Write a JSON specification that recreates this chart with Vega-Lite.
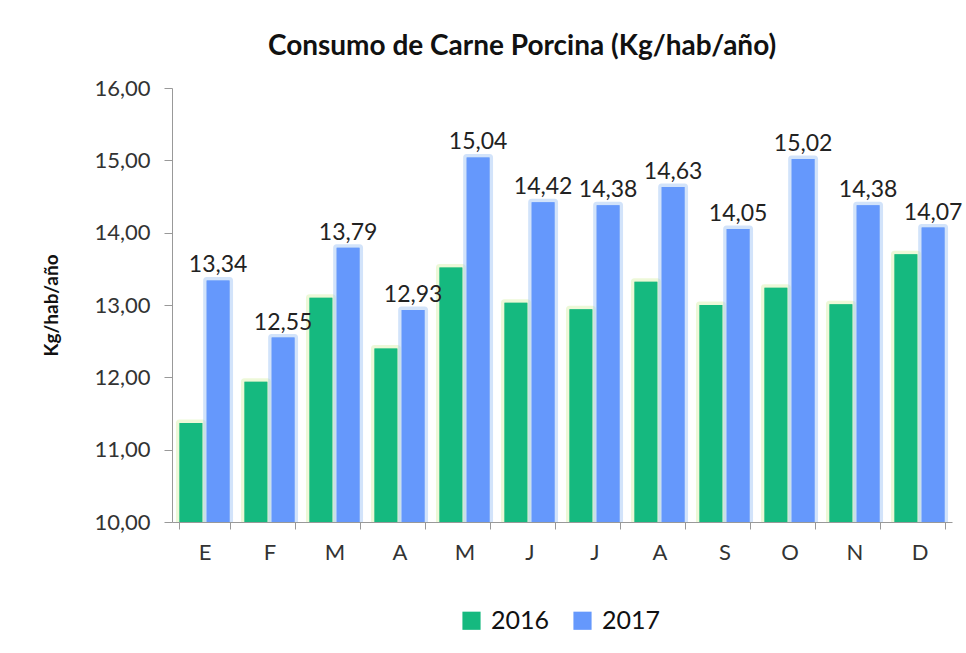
{
  "$schema": "https://vega.github.io/schema/vega-lite/v6.json",
  "autosize": {"type": "none"},
  "width": 780,
  "height": 434,
  "padding": {"left": 172, "top": 88, "right": 14, "bottom": 131},
  "background": "white",
  "config": {
    "font": "Lato",
    "view": {"stroke": null},
    "locale": {"number": {"decimal": ",", "thousands": ".", "grouping": [3], "currency": ["", ""]}}
  },
  "title": {
    "text": "Consumo de Carne Porcina (Kg/hab/año)",
    "fontSize": 28,
    "fontWeight": "bold",
    "font": "Lato",
    "color": "#111111",
    "anchor": "middle",
    "dx": -40,
    "offset": 16
  },
  "data": {
    "values": [
      {"idx": 1, "mes": "E", "anio": "2016", "valor": 11.37},
      {"idx": 1, "mes": "E", "anio": "2017", "valor": 13.34},
      {"idx": 2, "mes": "F", "anio": "2016", "valor": 11.94},
      {"idx": 2, "mes": "F", "anio": "2017", "valor": 12.55},
      {"idx": 3, "mes": "M", "anio": "2016", "valor": 13.10},
      {"idx": 3, "mes": "M", "anio": "2017", "valor": 13.79},
      {"idx": 4, "mes": "A", "anio": "2016", "valor": 12.40},
      {"idx": 4, "mes": "A", "anio": "2017", "valor": 12.93},
      {"idx": 5, "mes": "M", "anio": "2016", "valor": 13.52},
      {"idx": 5, "mes": "M", "anio": "2017", "valor": 15.04},
      {"idx": 6, "mes": "J", "anio": "2016", "valor": 13.03},
      {"idx": 6, "mes": "J", "anio": "2017", "valor": 14.42},
      {"idx": 7, "mes": "J", "anio": "2016", "valor": 12.94},
      {"idx": 7, "mes": "J", "anio": "2017", "valor": 14.38},
      {"idx": 8, "mes": "A", "anio": "2016", "valor": 13.32},
      {"idx": 8, "mes": "A", "anio": "2017", "valor": 14.63},
      {"idx": 9, "mes": "S", "anio": "2016", "valor": 13.00},
      {"idx": 9, "mes": "S", "anio": "2017", "valor": 14.05},
      {"idx": 10, "mes": "O", "anio": "2016", "valor": 13.24},
      {"idx": 10, "mes": "O", "anio": "2017", "valor": 15.02},
      {"idx": 11, "mes": "N", "anio": "2016", "valor": 13.01},
      {"idx": 11, "mes": "N", "anio": "2017", "valor": 14.38},
      {"idx": 12, "mes": "D", "anio": "2016", "valor": 13.70},
      {"idx": 12, "mes": "D", "anio": "2017", "valor": 14.07}
    ]
  },
  "encoding": {
    "x": {
      "field": "idx",
      "type": "ordinal",
      "scale": {"paddingInner": 0.23, "paddingOuter": 0.115},
      "axis": {
        "title": null,
        "labelExpr": "['E','F','M','A','M','J','J','A','S','O','N','D'][datum.value - 1]",
        "labelAngle": 0,
        "labelFontSize": 22,
        "labelColor": "#333333",
        "labelPadding": 13,
        "tickBand": "extent",
        "tickSize": 7,
        "tickColor": "#999999",
        "domainColor": "#999999",
        "labelFont": "Lato",
        "zindex": 1
      }
    },
    "xOffset": {"field": "anio", "type": "nominal", "scale": {"paddingInner": 0.16}},
    "y": {
      "field": "valor",
      "type": "quantitative",
      "scale": {"domain": [10, 16], "zero": false, "nice": false},
      "axis": {
        "title": "Kg/hab/año",
        "titleFontSize": 19,
        "titleFontWeight": "bold",
        "titleColor": "#111111",
        "titlePadding": 32,
        "titleFont": "Lato",
        "format": ".2f",
        "values": [10, 11, 12, 13, 14, 15, 16],
        "labelOverlap": false,
        "grid": false,
        "labelFontSize": 22,
        "labelColor": "#333333",
        "labelPadding": 14,
        "tickSize": 8,
        "tickColor": "#999999",
        "domainColor": "#999999",
        "labelFont": "Lato",
        "zindex": 1
      }
    },
    "color": {
      "field": "anio",
      "type": "nominal",
      "scale": {"domain": ["2016", "2017"], "range": ["#15b97f", "#6598fc"]},
      "legend": {
        "title": null,
        "orient": "none",
        "direction": "horizontal",
        "legendX": 287,
        "legendY": 520,
        "symbolType": "square",
        "symbolSize": 330,
        "symbolStrokeWidth": 0,
        "labelFontSize": 25,
        "labelFont": "Lato",
        "labelColor": "#111111",
        "columnPadding": 20,
        "labelOffset": 7
      }
    }
  },
  "layer": [
    {
      "mark": {"type": "bar", "strokeWidth": 7, "strokeOpacity": 0.45, "strokeJoin": "round", "clip": true},
      "encoding": {
        "y2": {"datum": 10},
        "stroke": {"field": "anio", "type": "nominal", "scale": {"domain": ["2016", "2017"], "range": ["#d7f0a8", "#9cc0f5"]}, "legend": null}
      }
    },
    {
      "mark": {"type": "bar"},
      "encoding": {
        "y2": {"datum": 10}
      }
    },
    {
      "transform": [{"filter": "datum.anio == '2017'"}],
      "mark": {"type": "text", "baseline": "bottom", "dy": -3, "fontSize": 23, "font": "Lato"},
      "encoding": {
        "text": {"field": "valor", "type": "quantitative", "format": ".2f"},
        "color": {"value": "#222222"}
      }
    }
  ]
}
